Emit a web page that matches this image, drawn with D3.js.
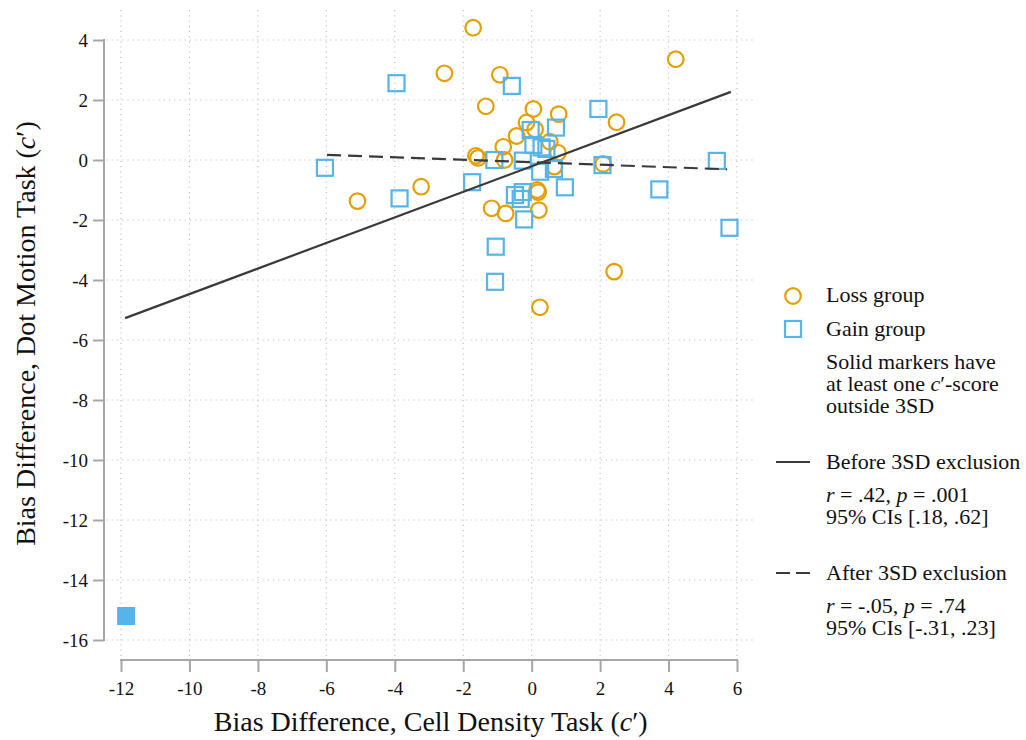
<!DOCTYPE html>
<html>
<head>
<meta charset="utf-8">
<script src="https://cdn.jsdelivr.net/npm/d3@7"></script>
<style>
  body { margin: 0; background: #fff; }
  text { font-family: "Liberation Serif", "Times New Roman", serif; fill: #111; }
</style>
</head>
<body>
<svg width="1026" height="740"></svg>
<script>
// loss group, hollow circles
const lossPoints = [
    [-1.71, 4.41], [4.21, 3.36], [-2.55, 2.89], [-0.93, 2.84], [-1.34, 1.79],
    [0.05, 1.70], [0.79, 1.53], [2.48, 1.26], [-0.15, 1.25], [0.10, 1.02],
    [-0.44, 0.80], [-0.83, 0.44], [0.53, 0.61], [0.77, 0.24], [-1.63, 0.14],
    [-1.57, 0.07], [-0.79, 0.00], [0.66, -0.22], [2.09, -0.13], [-3.23, -0.89],
    [-5.09, -1.37], [0.16, -1.00], [0.19, -1.07], [-1.17, -1.61], [-0.76, -1.78],
    [0.21, -1.67], [2.41, -3.72], [0.24, -4.91]
];
// gain group, hollow squares
const gainPoints = [
    [-3.95, 2.56], [-0.58, 2.47], [1.95, 1.70], [-0.03, 1.00], [0.71, 1.08],
    [0.05, 0.50], [0.29, 0.42], [0.43, 0.37], [-6.04, -0.26], [-1.09, 0.00],
    [-0.26, -0.02], [2.07, -0.17], [5.41, -0.03], [0.25, -0.39], [0.65, -0.30],
    [-1.74, -0.74], [-3.86, -1.28], [0.97, -0.91], [3.73, -0.98], [-0.49, -1.17],
    [-0.26, -1.07], [-0.32, -1.30], [-0.22, -1.98], [5.78, -2.26], [-1.05, -2.89],
    [-1.07, -4.06]
];
// solid marker: gain participant outside 3SD
const outlierGain = [[-11.85, -15.2]];

// fitted lines, [x, y] endpoints
const fitBefore = [[-11.88, -5.27], [5.82, 2.27]];
const fitAfter = [[-5.98, 0.17], [5.71, -0.31]];

const xTicks = [-12, -10, -8, -6, -4, -2, 0, 2, 4, 6];
const yTicks = [4, 2, 0, -2, -4, -6, -8, -10, -12, -14, -16];

const noteLines = ["Solid markers have", ["at least one ", ["c", true], "′-score"], "outside 3SD"];
const statsBefore = [[["r", true], " = .42, ", ["p", true], " = .001"], "95% CIs [.18, .62]"];
const statsAfter = [[["r", true], " = -.05, ", ["p", true], " = .74"], "95% CIs [-.31, .23]"];

const orange = "#E69F00";
const blue = "#56B4E9";
const lineCol = "#3a3a3a";
const axisCol = "#a6a6a6";
const serif = "'Liberation Serif', 'Times New Roman', serif";

const svg = d3.select("svg");

const x = d3.scaleLinear().domain([-12, 6]).range([121, 737]);
const y = d3.scaleLinear().domain([-16, 4]).range([640, 40]);

// plot region edges (a little wider than the tick range)
const plotLeft = x(-12.42), plotRight = x(6.52), plotTop = y(5), plotBottom = y(-16.57);

// dotted grid
const grid = svg.append("g")
        .attr("stroke", "#c4c4c4")
        .attr("stroke-width", 1.2)
        .attr("stroke-dasharray", "1.2,4");
grid.selectAll("line.v")
        .data(xTicks)
    .enter().append("line")
        .attr("class", "v")
        .attr("x1", d => x(d)).attr("x2", d => x(d))
        .attr("y1", plotTop).attr("y2", plotBottom);
grid.selectAll("line.h")
        .data(yTicks)
    .enter().append("line")
        .attr("class", "h")
        .attr("x1", plotLeft).attr("x2", plotRight)
        .attr("y1", d => y(d)).attr("y2", d => y(d));

// axes (plain hyphen for negatives, like the original)
const fmt = d => String(d);
const xAxis = svg.append("g")
        .attr("transform", `translate(0,660)`)
        .call(d3.axisBottom(x).tickValues(xTicks).tickSize(12).tickPadding(6).tickFormat(fmt));
const yAxis = svg.append("g")
        .attr("transform", `translate(104,0)`)
        .call(d3.axisLeft(y).tickValues(yTicks).tickSize(11).tickPadding(5).tickFormat(fmt));
[xAxis, yAxis].forEach(a => {
    a.attr("font-family", null).attr("font-size", null);
    a.select(".domain").remove();
    a.selectAll(".tick line").attr("stroke", axisCol).attr("stroke-width", 2);
    a.selectAll(".tick text")
        .style("font-family", serif)
        .style("font-size", "19px")
        .attr("fill", "#111");
});
xAxis.selectAll(".tick text").attr("dy", "0.9em");
yAxis.selectAll(".tick text").attr("dy", "0.34em");
// axis lines only span the tick range
svg.append("line")
        .attr("x1", x(-12) - 1).attr("x2", x(6) + 1)
        .attr("y1", 660).attr("y2", 660)
        .attr("stroke", axisCol).attr("stroke-width", 2);
svg.append("line")
        .attr("x1", 104).attr("x2", 104)
        .attr("y1", y(4) - 1).attr("y2", y(-16) + 1)
        .attr("stroke", axisCol).attr("stroke-width", 2);

// axis titles
const xTitle = svg.append("text")
        .attr("x", (plotLeft + plotRight) / 2)
        .attr("y", 731)
        .attr("text-anchor", "middle")
        .attr("font-size", 28);
xTitle.append("tspan").text("Bias Difference, Cell Density Task (");
xTitle.append("tspan").attr("font-style", "italic").text("c");
xTitle.append("tspan").text("′)");

const yTitle = svg.append("text")
        .attr("transform", `translate(35,${(plotTop + plotBottom) / 2}) rotate(-90)`)
        .attr("text-anchor", "middle")
        .attr("font-size", 28);
yTitle.append("tspan").text("Bias Difference, Dot Motion Task (");
yTitle.append("tspan").attr("font-style", "italic").text("c");
yTitle.append("tspan").text("′)");

// markers
const size = 16;
svg.append("g").selectAll("circle")
        .data(lossPoints)
    .enter().append("circle")
        .attr("cx", d => x(d[0]))
        .attr("cy", d => y(d[1]))
        .attr("r", 7.8)
        .attr("fill", "none")
        .attr("stroke", orange)
        .attr("stroke-width", 2.2);
svg.append("g").selectAll("rect")
        .data(gainPoints)
    .enter().append("rect")
        .attr("x", d => x(d[0]) - size / 2)
        .attr("y", d => y(d[1]) - size / 2)
        .attr("width", size).attr("height", size)
        .attr("fill", "none")
        .attr("stroke", blue)
        .attr("stroke-width", 2.2);
svg.append("g").selectAll("rect")
        .data(outlierGain)
    .enter().append("rect")
        .attr("x", d => x(d[0]) - size / 2 - 1)
        .attr("y", d => y(d[1]) - size / 2 - 1)
        .attr("width", size + 2).attr("height", size + 2)
        .attr("fill", blue);

// fit lines
const line = d3.line().x(d => x(d[0])).y(d => y(d[1]));
svg.append("path")
        .attr("d", line(fitBefore))
        .attr("fill", "none")
        .attr("stroke", lineCol)
        .attr("stroke-width", 2.2);
svg.append("path")
        .attr("d", line(fitAfter))
        .attr("fill", "none")
        .attr("stroke", lineCol)
        .attr("stroke-width", 2.2)
        .attr("stroke-dasharray", "14,7");

// legend
const lg = svg.append("g").attr("font-size", 22);
const textX = 826;

function addLine (parts, yy) {
    let t = lg.append("text").attr("x", textX).attr("y", yy);
    if (typeof parts === "string") parts = [parts];
    parts.forEach(p => {
        if (Array.isArray(p)) {
            t.append("tspan").attr("font-style", "italic").text(p[0]);
        } else {
            t.append("tspan").text(p);
        }
    });
}

lg.append("circle")
        .attr("cx", 793).attr("cy", 296).attr("r", 7.8)
        .attr("fill", "none").attr("stroke", orange).attr("stroke-width", 2.2);
addLine("Loss group", 302);
lg.append("rect")
        .attr("x", 793 - size / 2).attr("y", 329 - size / 2)
        .attr("width", size).attr("height", size)
        .attr("fill", "none").attr("stroke", blue).attr("stroke-width", 2.2);
addLine("Gain group", 336);

noteLines.forEach((l, i) => addLine(l, 369 + i * 22));

lg.append("line")
        .attr("x1", 776).attr("x2", 810).attr("y1", 462).attr("y2", 462)
        .attr("stroke", lineCol).attr("stroke-width", 2.2);
addLine("Before 3SD exclusion", 469);
statsBefore.forEach((l, i) => addLine(l, 502 + i * 22));

lg.append("line")
        .attr("x1", 776).attr("x2", 810).attr("y1", 573).attr("y2", 573)
        .attr("stroke", lineCol).attr("stroke-width", 2.2)
        .attr("stroke-dasharray", "14,6");
addLine("After 3SD exclusion", 580);
statsAfter.forEach((l, i) => addLine(l, 613 + i * 22));
</script>
</body>
</html>
